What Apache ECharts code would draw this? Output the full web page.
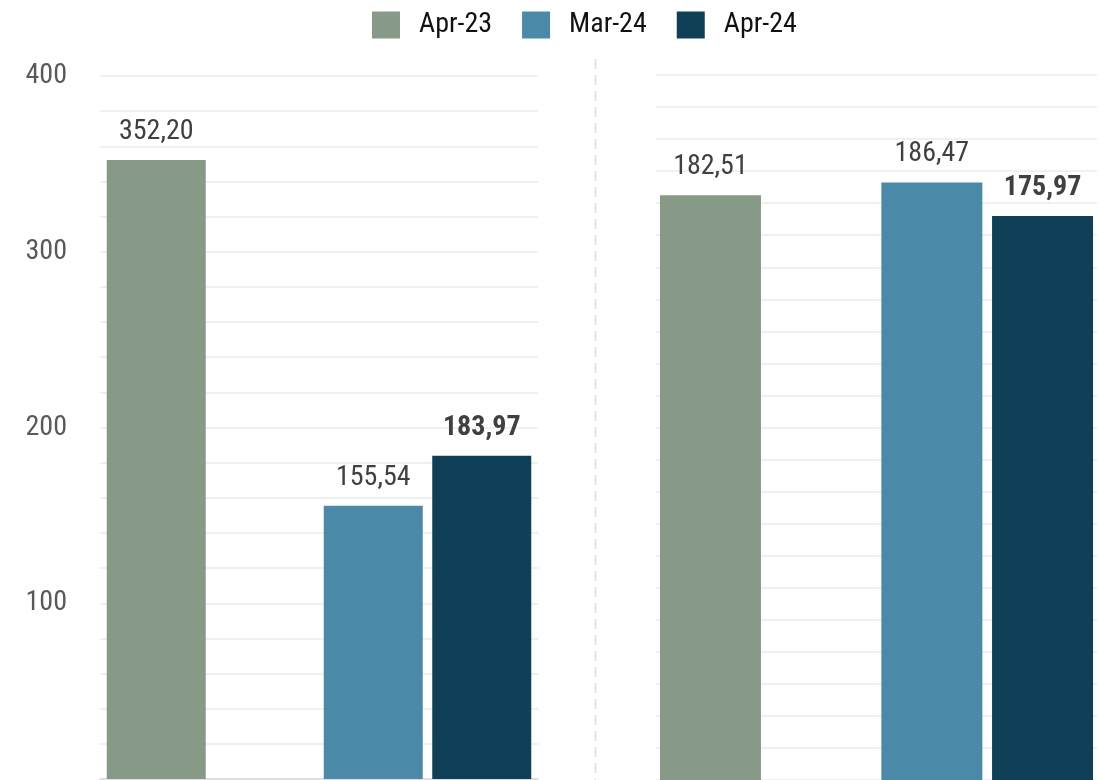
<!DOCTYPE html>
<html>
<head>
<meta charset="utf-8">
<script src="https://cdn.jsdelivr.net/npm/echarts@6/dist/echarts.min.js"></script>
<style>
html,body{margin:0;padding:0;background:#fff;}
#chart{width:1103px;height:780px;}
</style>
</head>
<body>
<div id="chart"></div>
<script>
const categories = ['Apr-23', 'Mar-24', 'Apr-24'];
const leftValues = [352.20, 155.54, 183.97];
const rightValues = [182.51, 186.47, 175.97];
const leftTickLabels = [100, 200, 300, 400];
const colors = ['#879A87', '#4A8AA8', '#0F4058'];

const FONT = '"Roboto Condensed", "Liberation Sans Narrow", "DejaVu Sans Condensed", sans-serif';
const fmt = v => v.toFixed(2).replace('.', ',');

function panelSeries(values, axisIdx, barWidth, barGap) {
  const out = [];
  categories.forEach((name, i) => {
    out.push({
      name: name,
      type: 'bar',
      xAxisIndex: axisIdx,
      yAxisIndex: axisIdx,
      data: [values[i]],
      barWidth: barWidth,
      barGap: barGap,
      itemStyle: { color: colors[i] },
      label: {
        show: true,
        position: 'top',
        distance: 14,
        fontFamily: FONT,
        fontSize: 28,
        fontWeight: i === 2 ? 'bold' : 'normal',
        color: '#404040',
        formatter: p => fmt(p.value)
      },
      emphasis: { disabled: true },
      animation: false
    });
    if (i === 0) {
      out.push({
        name: '_gap',
        type: 'bar',
        xAxisIndex: axisIdx,
        yAxisIndex: axisIdx,
        data: [null],
        barWidth: barWidth,
        barGap: barGap,
        animation: false
      });
    }
  });
  return out;
}

const chart = echarts.init(document.getElementById('chart'), null, { renderer: 'canvas' });
chart.setOption({
  backgroundColor: '#ffffff',
  animation: false,
  legend: {
    data: categories,
    left: 367,
    top: 6,
    icon: 'rect',
    itemWidth: 28,
    itemHeight: 27,
    itemGap: 30,
    selectedMode: false,
    textStyle: { fontFamily: FONT, fontSize: 28, color: '#111', padding: [0, 0, 0, 14] }
  },
  grid: [
    { left: 100, width: 438, top: 76, height: 703 },
    { left: 656, width: 441, top: 75, height: 719 }
  ],
  xAxis: [
    { type: 'category', gridIndex: 0, data: [''],
      axisLine: { show: true, lineStyle: { color: '#D9D9D9', width: 1.5 } },
      axisTick: { show: false }, axisLabel: { show: false } },
    { type: 'category', gridIndex: 1, data: [''],
      axisLine: { show: false }, axisTick: { show: false }, axisLabel: { show: false } }
  ],
  yAxis: [
    { type: 'value', gridIndex: 0, min: 0, max: 400, interval: 20,
      axisLine: { show: false }, axisTick: { show: false },
      splitLine: { lineStyle: { color: '#F0F0F0', width: 2 } },
      axisLabel: { margin: 33, fontFamily: FONT, fontSize: 28, color: '#595959',
        formatter: v => leftTickLabels.indexOf(v) >= 0 ? String(v) : '' } },
    { type: 'value', gridIndex: 1, min: 0, max: 220, interval: 10,
      axisLine: { show: false }, axisTick: { show: false },
      splitLine: { lineStyle: { color: '#F0F0F0', width: 2 } },
      axisLabel: { show: false } }
  ],
  graphic: [
    { type: 'line', silent: true,
      shape: { x1: 595.5, y1: 59, x2: 595.5, y2: 780 },
      style: { stroke: '#DDDDDD', lineWidth: 1.5, lineDash: [10, 6] } }
  ],
  series: panelSeries(leftValues, 0, 99, '9.6%').concat(panelSeries(rightValues, 1, 101, '9.6%'))
});
</script>
</body>
</html>
